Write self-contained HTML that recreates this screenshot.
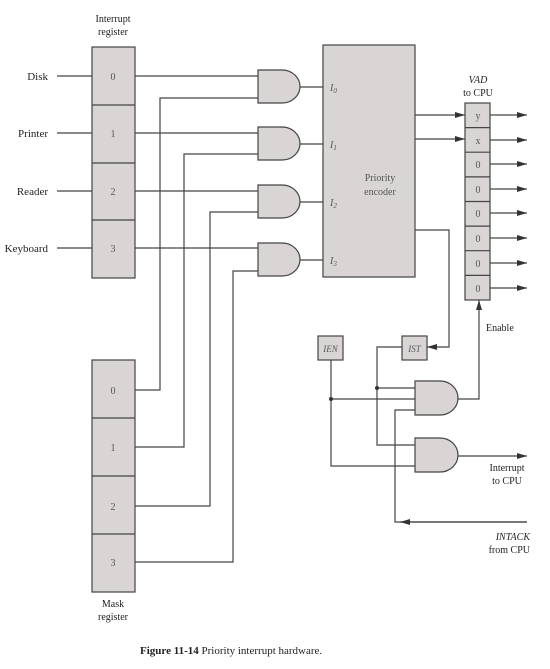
<!DOCTYPE html>
<html><head><meta charset="utf-8"><style>
html,body{margin:0;padding:0;background:#fff;}
svg{display:block;font-family:"Liberation Serif",serif;}
</style></head><body>
<svg width="550" height="669" viewBox="0 0 550 669" xmlns="http://www.w3.org/2000/svg">
<defs>
<marker id="a" markerWidth="10" markerHeight="6" refX="10" refY="3" orient="auto" markerUnits="userSpaceOnUse"><path d="M0,0 L10,3 L0,6 Z" fill="#333"/></marker>
</defs>
<rect width="550" height="669" fill="#fff"/>
<g stroke="#444" stroke-width="1.2" fill="none">
<!-- interrupt register -->
<rect x="92" y="47" width="43" height="231" fill="#d9d5d5"/>
<line x1="92" y1="105" x2="135" y2="105"/><line x1="92" y1="163" x2="135" y2="163"/><line x1="92" y1="220" x2="135" y2="220"/>
<!-- inputs -->
<line x1="57" y1="76" x2="92" y2="76"/><line x1="57" y1="133" x2="92" y2="133"/><line x1="57" y1="191" x2="92" y2="191"/><line x1="57" y1="248" x2="92" y2="248"/>
<!-- reg to gates -->
<line x1="135" y1="76" x2="258" y2="76"/><line x1="135" y1="133" x2="258" y2="133"/><line x1="135" y1="191" x2="258" y2="191"/><line x1="135" y1="248" x2="258" y2="248"/>
<!-- mask wires -->
<polyline points="135,390 160,390 160,98 258,98"/>
<polyline points="135,447 184,447 184,154 258,154"/>
<polyline points="135,506 210,506 210,212 258,212"/>
<polyline points="135,562 233,562 233,271 258,271"/>
<!-- gates -->
<path d="M258,70 H282 A18,16.5 0 0 1 282,103 H258 Z" fill="#d9d5d5"/>
<path d="M258,127 H282 A18,16.5 0 0 1 282,160 H258 Z" fill="#d9d5d5"/>
<path d="M258,185 H282 A18,16.5 0 0 1 282,218 H258 Z" fill="#d9d5d5"/>
<path d="M258,243 H282 A18,16.5 0 0 1 282,276 H258 Z" fill="#d9d5d5"/>
<line x1="300" y1="87" x2="323" y2="87"/><line x1="300" y1="144" x2="323" y2="144"/><line x1="300" y1="202" x2="323" y2="202"/><line x1="300" y1="260" x2="323" y2="260"/>
<!-- encoder -->
<rect x="323" y="45" width="92" height="232" fill="#d9d5d5"/>
<line x1="415" y1="115" x2="465" y2="115" marker-end="url(#a)"/>
<line x1="415" y1="139" x2="465" y2="139" marker-end="url(#a)"/>
<polyline points="415,230 449,230 449,347 427,347" marker-end="url(#a)"/>
<!-- VAD -->
<rect x="465" y="103" width="25" height="197" fill="#d9d5d5"/>
<line x1="465" y1="127.6" x2="490" y2="127.6"/><line x1="465" y1="152.2" x2="490" y2="152.2"/><line x1="465" y1="176.9" x2="490" y2="176.9"/><line x1="465" y1="201.5" x2="490" y2="201.5"/><line x1="465" y1="226.1" x2="490" y2="226.1"/><line x1="465" y1="250.7" x2="490" y2="250.7"/><line x1="465" y1="275.4" x2="490" y2="275.4"/>
<line x1="490" y1="115" x2="527" y2="115" marker-end="url(#a)"/>
<line x1="490" y1="140" x2="527" y2="140" marker-end="url(#a)"/>
<line x1="490" y1="164" x2="527" y2="164" marker-end="url(#a)"/>
<line x1="490" y1="189" x2="527" y2="189" marker-end="url(#a)"/>
<line x1="490" y1="213" x2="527" y2="213" marker-end="url(#a)"/>
<line x1="490" y1="238" x2="527" y2="238" marker-end="url(#a)"/>
<line x1="490" y1="263" x2="527" y2="263" marker-end="url(#a)"/>
<line x1="490" y1="288" x2="527" y2="288" marker-end="url(#a)"/>
<!-- mask register -->
<rect x="92" y="360" width="43" height="232" fill="#d9d5d5"/>
<line x1="92" y1="418" x2="135" y2="418"/><line x1="92" y1="476" x2="135" y2="476"/><line x1="92" y1="534" x2="135" y2="534"/>
<!-- IEN/IST -->
<rect x="318" y="336" width="25" height="24" fill="#d9d5d5"/>
<rect x="402" y="336" width="25" height="24" fill="#d9d5d5"/>
<!-- gates A B -->
<path d="M415,381 H440 A18,17 0 0 1 440,415 H415 Z" fill="#d9d5d5"/>
<path d="M415,438 H440 A18,17 0 0 1 440,472 H415 Z" fill="#d9d5d5"/>
<polyline points="402,347 377,347 377,445 415,445"/>
<line x1="377" y1="388" x2="415" y2="388"/>
<polyline points="331,360 331,466 415,466"/>
<line x1="331" y1="399" x2="415" y2="399"/>
<polyline points="527,522 395,522 395,410 415,410"/>
<line x1="527" y1="522" x2="400" y2="522" marker-end="url(#a)"/>
<polyline points="458,399 479,399 479,300" marker-end="url(#a)"/>
<line x1="458" y1="456" x2="527" y2="456" marker-end="url(#a)"/>
</g>
<circle cx="377" cy="388" r="2" fill="#333"/>
<circle cx="331" cy="399" r="2" fill="#333"/>
<g font-size="11" fill="#222">
<text x="113" y="22" text-anchor="middle" font-size="10">Interrupt</text>
<text x="113" y="35" text-anchor="middle" font-size="10">register</text>
<text x="48" y="80" text-anchor="end">Disk</text>
<text x="48" y="137" text-anchor="end">Printer</text>
<text x="48" y="195" text-anchor="end">Reader</text>
<text x="48" y="252" text-anchor="end">Keyboard</text>
<g fill="#555" text-anchor="middle" font-size="10">
<text x="113" y="80">0</text><text x="113" y="137">1</text><text x="113" y="195">2</text><text x="113" y="252">3</text>
<text x="113" y="394">0</text><text x="113" y="451">1</text><text x="113" y="510">2</text><text x="113" y="566">3</text>
<text x="478" y="119">y</text><text x="478" y="144">x</text><text x="478" y="168">0</text><text x="478" y="193">0</text><text x="478" y="217">0</text><text x="478" y="242">0</text><text x="478" y="267">0</text><text x="478" y="292">0</text>
<text x="380" y="181">Priority</text><text x="380" y="195">encoder</text>
</g>
<g fill="#555" font-style="italic" font-size="10">
<text x="330" y="91">I<tspan font-size="7" dy="2">0</tspan></text>
<text x="330" y="148">I<tspan font-size="7" dy="2">1</tspan></text>
<text x="330" y="206">I<tspan font-size="7" dy="2">2</tspan></text>
<text x="330" y="264">I<tspan font-size="7" dy="2">3</tspan></text>
<text x="330.5" y="352" text-anchor="middle" font-size="9">IEN</text>
<text x="414.5" y="352" text-anchor="middle" font-size="9">IST</text>
</g>
<text x="478" y="83" text-anchor="middle" font-style="italic" font-size="10">VAD</text>
<text x="478" y="96" text-anchor="middle" font-size="10">to CPU</text>
<text x="486" y="331" font-size="10">Enable</text>
<text x="507" y="471" text-anchor="middle" font-size="10">Interrupt</text>
<text x="507" y="484" text-anchor="middle" font-size="10">to CPU</text>
<text x="530" y="540" text-anchor="end" font-style="italic" font-size="10">INTACK</text>
<text x="530" y="553" text-anchor="end" font-size="10">from CPU</text>
<text x="113" y="607" text-anchor="middle" font-size="10">Mask</text>
<text x="113" y="620" text-anchor="middle" font-size="10">register</text>
<text x="140" y="654" font-size="11"><tspan font-weight="bold">Figure 11-14</tspan>   Priority interrupt hardware.</text>
</g>
</svg>
</body></html>
